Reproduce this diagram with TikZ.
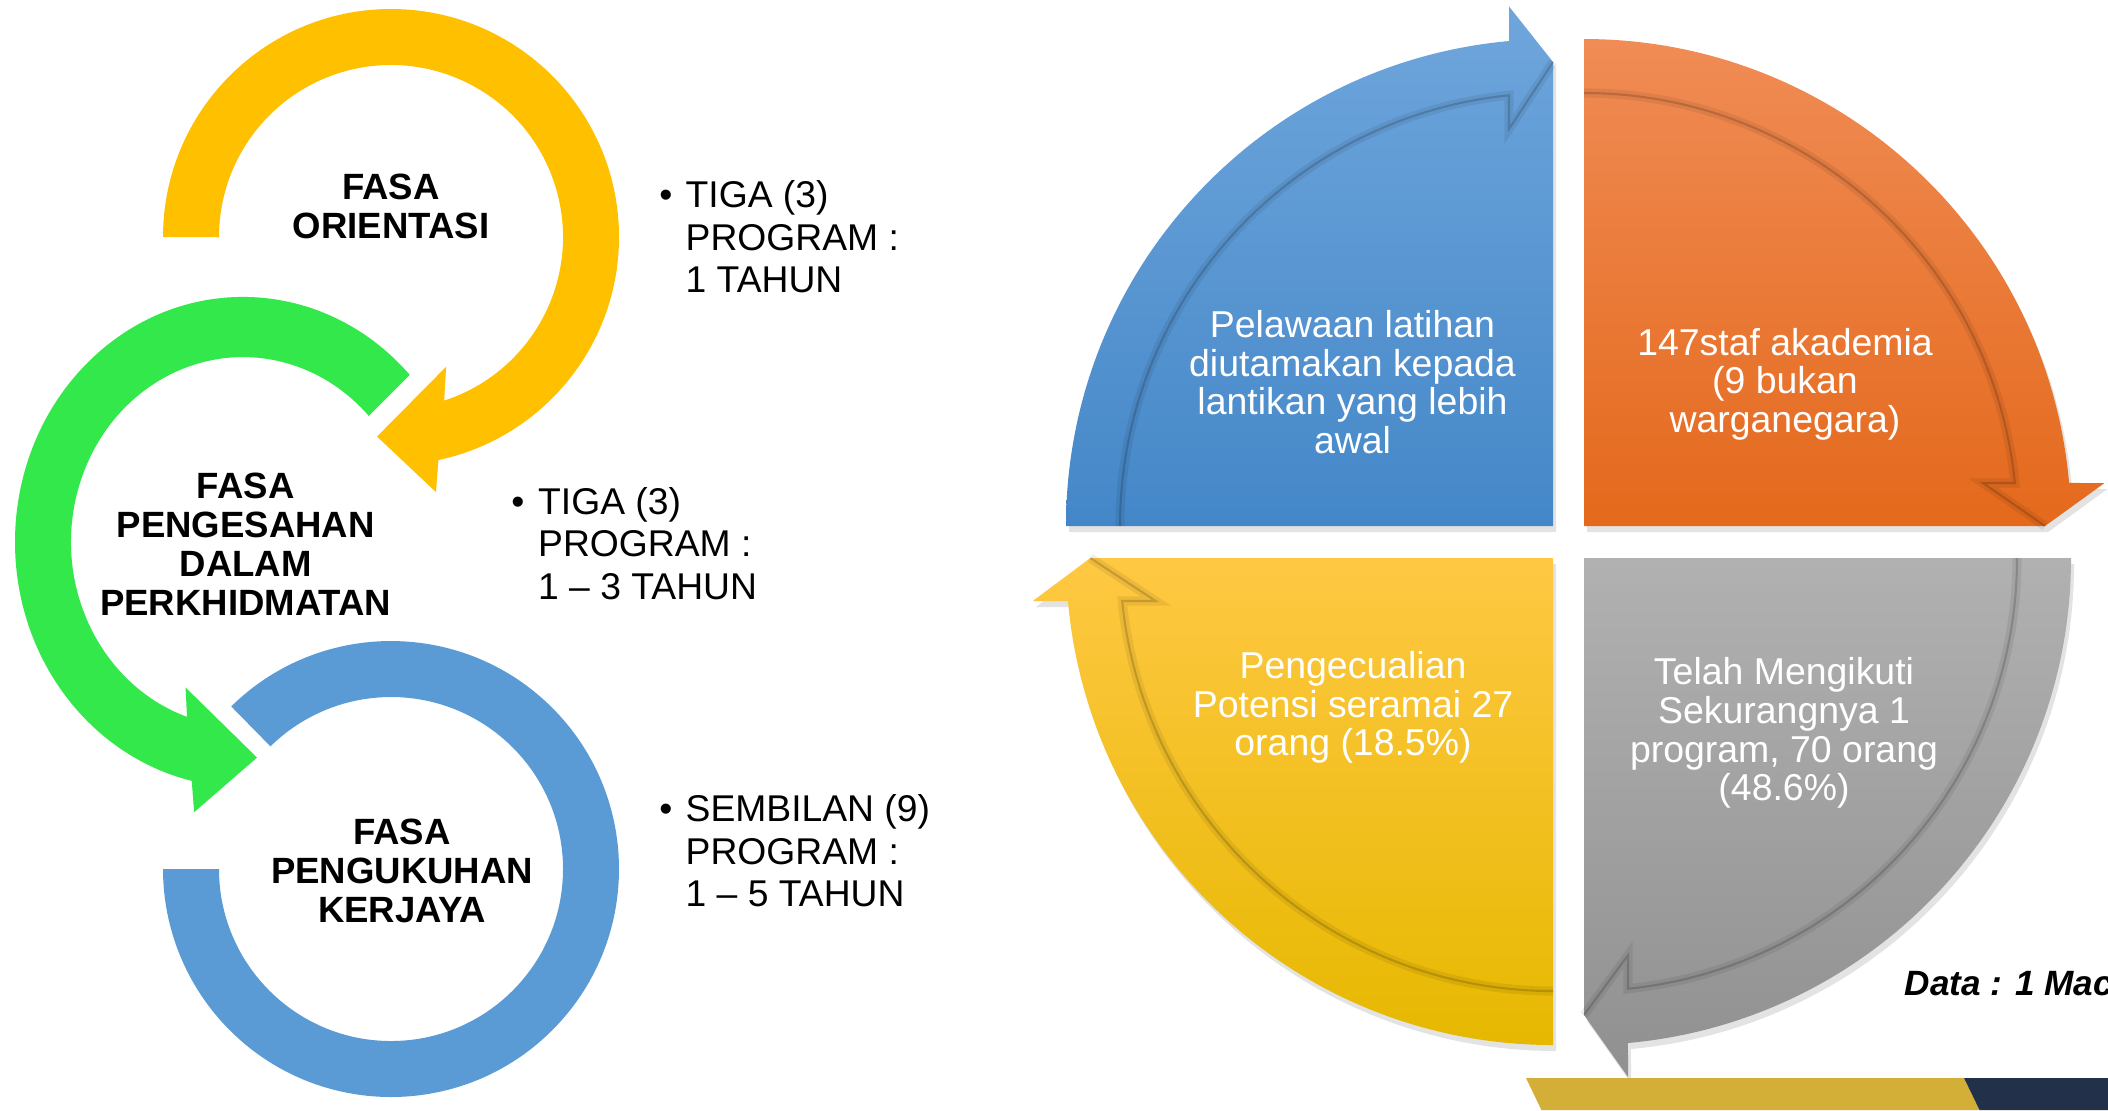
\documentclass[tikz,border=0pt]{standalone}
\usepackage{fontspec}
\setmainfont{Liberation Sans}
\usetikzlibrary{positioning,shadows}
\definecolor{ringYellow}{HTML}{FFC000}
\definecolor{ringGreen}{HTML}{33E84A}
\definecolor{ringBlue}{HTML}{5B9BD5}
\definecolor{quadBlueTop}{HTML}{6FA6DC}
\definecolor{quadBlueBottom}{HTML}{4487C8}
\definecolor{quadOrangeTop}{HTML}{F08C55}
\definecolor{quadOrangeBottom}{HTML}{E4691C}
\definecolor{quadYellowTop}{HTML}{FFC843}
\definecolor{quadYellowMid}{HTML}{FFC60B}
\definecolor{quadYellowBottom}{HTML}{E6B800}
\definecolor{quadGrayTop}{HTML}{B1B1B1}
\definecolor{quadGrayBottom}{HTML}{909090}
\definecolor{bandGold}{HTML}{D4AF37}
\definecolor{bandNavy}{HTML}{22304A}
\tikzset{
	fasa label/.style={
		align=center,
		inner sep=0pt,
		font=\bfseries\fontsize{10.4}{11.1}\selectfont
	},
	program text/.style={
		align=left,
		anchor=north west,
		inner sep=0pt,
		font=\fontsize{10.6}{12.1}\selectfont
	},
	program bullet/.style={
		anchor=base,
		inner sep=0pt,
		font=\fontsize{10.6}{12.1}\selectfont
	},
	quarter text/.style={
		align=center,
		anchor=north,
		inner sep=0pt,
		text=white,
		font=\fontsize{10.65}{11}\selectfont
	},
	quarter edge/.style={
		draw=black,
		draw opacity=0.16,
		line width=0.6pt,
		preaction={draw=black, draw opacity=0.07, line width=2.6pt}
	},
	quarter shadow/.style={
		drop shadow={opacity=0.22, shadow xshift=0.3mm, shadow yshift=-0.6mm}
	},
}

\begin{document}
\begin{tikzpicture}
\useasboundingbox (0,0) rectangle (21.08,-11.10);
\fill[white] (0,0) rectangle (21.08,-11.10);
\clip (0,0) rectangle (21.08,-11.10);

\begin{scope}[shift={(3.91,-2.37)}]
	\fill[ringYellow] (180:2.28) arc[start angle=180, end angle=-78, radius=2.28]
		-- (-80:2.59) -- (-94:2.0) -- (-67:1.41) -- (-72:1.72)
		arc[start angle=-72, end angle=180, radius=1.72] -- cycle;
\end{scope}
\begin{scope}[shift={(2.43,-5.42)}, yscale=1.075]
	\fill[ringGreen] (43:2.28) arc[start angle=43, end angle=257, radius=2.28]
		-- (259:2.56) -- (274:2.01) -- (247:1.47) -- (251:1.72)
		arc[start angle=251, end angle=43, radius=1.72] -- cycle;
\end{scope}
\begin{scope}[shift={(3.91,-8.69)}]
	\fill[ringBlue] (134.5:2.28) arc[start angle=134.5, end angle=-180, radius=2.28]
		-- (-180:1.72) arc[start angle=-180, end angle=134.5, radius=1.72] -- cycle;
\end{scope}

\node[fasa label] (fasaOrientasi) at (3.91,-2.06) {FASA\\ORIENTASI};
\node[fasa label] (fasaPengesahan) at (2.457,-5.44) {FASA\\PENGESAHAN\\DALAM\\PERKHIDMATAN};
\node[fasa label] (fasaPengukuhan) at (4.02,-8.705) {FASA\\PENGUKUHAN\\KERJAYA};

\node[program bullet] (dotOrientasi) at (6.66,-2.07) {•};
\node[program text] (progOrientasi) at (6.85,-1.80) {TIGA (3)\\PROGRAM :\\1 TAHUN};
\node[program bullet] (dotPengesahan) at (5.18,-5.14) {•};
\node[program text] (progPengesahan) at (5.375,-4.866) {TIGA (3)\\PROGRAM :\\1 – 3 TAHUN};
\node[program bullet] (dotPengukuhan) at (6.66,-8.214) {•};
\node[program text] (progPengukuhan) at (6.85,-7.94) {SEMBILAN (9)\\PROGRAM :\\1 – 5 TAHUN};

\begin{scope}[shift={(15.53,-5.26)}]
	\shade[quarter shadow, top color=quadBlueTop, bottom color=quadBlueBottom] (0,0) -- (-4.87,0)
		arc[start angle=180, end angle=95.18, radius=4.87] -- (-0.44,5.196) -- (0,4.64) -- cycle;
	\draw[quarter edge] (-4.33,0) arc[start angle=180, end angle=95.83, radius=4.33] -- (-0.44,3.97) -- (0,4.64);
\end{scope}
\begin{scope}[shift={(15.84,-5.26)}]
	\shade[quarter shadow, top color=quadOrangeTop, bottom color=quadOrangeBottom] (0,0) -- (0,4.87)
		arc[start angle=90, end angle=5.07, radius=4.87] -- (5.205,0.43) -- (4.61,0) -- cycle;
	\draw[quarter edge] (0,4.33) arc[start angle=90, end angle=5.70, radius=4.33] -- (3.99,0.43) -- (4.61,0);
\end{scope}
\begin{scope}[shift={(15.53,-5.58)}]
	\shade[quarter shadow, top color=quadYellowTop, middle color=quadYellowMid, bottom color=quadYellowBottom] (0,0) -- (0,-4.87)
		arc[start angle=-90, end angle=-174.93, radius=4.87] -- (-5.202,-0.43) -- (-4.627,0) -- cycle;
	\draw[quarter edge] (0,-4.33) arc[start angle=-90, end angle=-174.30, radius=4.33] -- (-3.973,-0.43) -- (-4.627,0);
\end{scope}
\begin{scope}[shift={(15.84,-5.58)}]
	\shade[quarter shadow, top color=quadGrayTop, bottom color=quadGrayBottom] (0,0) -- (4.87,0)
		arc[start angle=0, end angle=-84.82, radius=4.87] -- (0.44,-5.19) -- (0,-4.57) -- cycle;
	\draw[quarter edge] (4.33,0) arc[start angle=0, end angle=-84.17, radius=4.33] -- (0.44,-3.97) -- (0,-4.57);
\end{scope}

\node[quarter text] (quarterBlue) at (13.525,-3.097) {Pelawaan latihan\\diutamakan kepada\\lantikan yang lebih\\awal};
\node[quarter text] (quarterOrange) at (17.85,-3.274) {147staf akademia\\(9 bukan\\warganegara)};
\node[quarter text] (quarterYellow) at (13.53,-6.506) {Pengecualian\\Potensi seramai 27\\orang (18.5\%)};
\node[quarter text] (quarterGray) at (17.84,-6.57) {Telah Mengikuti\\Sekurangnya 1\\program, 70 orang\\(48.6\%)};

\node[anchor=base west, inner sep=0pt, font=\bfseries\itshape\fontsize{10}{12}\selectfont] (dataDate) at (19.04,-9.957) {Data : 1 Mac};

\fill[bandGold] (15.26,-10.78) -- (19.64,-10.78) -- (19.795,-11.10) -- (15.414,-11.10) -- cycle;
\fill[bandNavy] (19.64,-10.78) -- (21.08,-10.78) -- (21.08,-11.10) -- (19.795,-11.10) -- cycle;
\end{tikzpicture}
\end{document}
